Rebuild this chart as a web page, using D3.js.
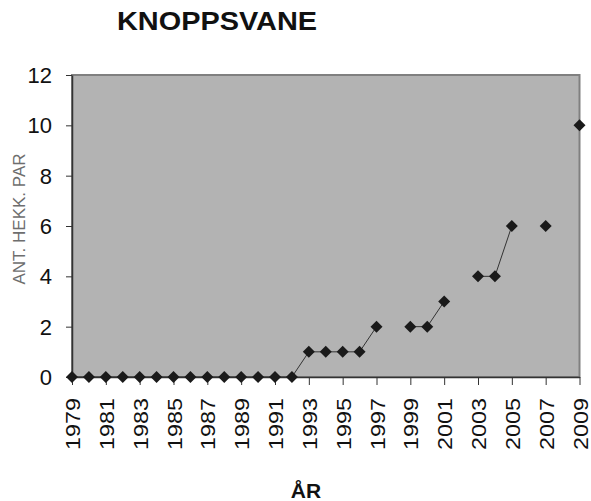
<!DOCTYPE html>
<html>
<head>
<meta charset="utf-8">
<script src="https://cdn.jsdelivr.net/npm/d3@7"></script>
<style>
  body { margin: 0; background: #fff; }
  svg text { font-family: "Liberation Sans", Arial, sans-serif; }
</style>
</head>
<body>
<div class="chart"></div>
<script>
// Data.
const years = d3.range(1979, 2010);
const pairs = [
  0, 0, 0, 0, 0, 0, 0, 0, 0, 0, 0, 0, 0, 0,   // 1979-1992
  1, 1, 1, 1, 2, null, 2, 2, 3, null,          // 1993-2002
  4, 4, 6, null, 6, null, 10                   // 2003-2009
];
const xTicks = d3.range(1979, 2010, 2);
const yTicks = [0, 2, 4, 6, 8, 10, 12];

const data = years.map((y, i) => ({ year: y, value: pairs[i] }));

// Margin convention.
const width = 591, height = 501;
const margin = { top: 75, right: 11, bottom: 124, left: 72 };

const xScale = d3.scaleLinear()
  .domain([1979, 2009])
  .range([margin.left, width - margin.right - 0.5]);
const yScale = d3.scaleLinear()
  .domain([0, 12])
  .range([height - margin.bottom, margin.top]);

const svg = d3.select('.chart')
  .append('svg')
  .attr('width', width)
  .attr('height', height);

// Plot area.
svg.append('rect')
  .attr('x', xScale(1979))
  .attr('y', yScale(12))
  .attr('width', xScale(2009) - xScale(1979))
  .attr('height', yScale(0) - yScale(12))
  .style('fill', '#b3b3b3')
  .style('stroke', '#808080')
  .style('stroke-width', 2);

// Title.
svg.append('text')
  .attr('x', 117)
  .attr('y', 30)
  .attr('textLength', 200)
  .attr('lengthAdjust', 'spacingAndGlyphs')
  .style('font-size', '25px')
  .style('font-weight', 'bold')
  .style('fill', '#111')
  .text('KNOPPSVANE');

// Y axis.
const yAxis = d3.axisLeft(yScale)
  .tickValues(yTicks)
  .tickSizeInner(6)
  .tickSizeOuter(0)
  .tickPadding(14);
const yAxisDraw = svg.append('g')
  .attr('transform', `translate(${xScale(1979)},0)`)
  .call(yAxis);
yAxisDraw.select('.domain').attr('stroke', '#333').attr('stroke-width', 1.5);
yAxisDraw.selectAll('line').attr('stroke', '#333');
yAxisDraw.selectAll('text')
  .style('font-size', '22px')
  .style('fill', '#111')
  .attr('dy', '0.34em');

// X axis.
const xAxis = d3.axisBottom(xScale)
  .tickValues(xTicks)
  .tickFormat(d3.format('d'))
  .tickSizeInner(8)
  .tickSizeOuter(0);
const xAxisDraw = svg.append('g')
  .attr('transform', `translate(0,${yScale(0)})`)
  .call(xAxis);
xAxisDraw.select('.domain').attr('stroke', '#333').attr('stroke-width', 1.5);
xAxisDraw.selectAll('line').attr('stroke', '#333');
xAxisDraw.selectAll('text')
  .attr('transform', 'rotate(-90)')
  .attr('text-anchor', 'end')
  .attr('x', -21)
  .attr('y', 0)
  .attr('dy', '0.36em')
  .attr('textLength', 52)
  .attr('lengthAdjust', 'spacingAndGlyphs')
  .style('font-size', '21px')
  .style('fill', '#111');

// Axis titles.
svg.append('text')
  .attr('transform', 'translate(25,219) rotate(-90)')
  .attr('text-anchor', 'middle')
  .style('font-size', '17px')
  .style('fill', '#6e6e6e')
  .text('ANT. HEKK. PAR');

svg.append('text')
  .attr('x', 306)
  .attr('y', 498)
  .attr('text-anchor', 'middle')
  .style('font-size', '21px')
  .style('font-weight', 'bold')
  .style('fill', '#111')
  .text('ÅR');

// Line with gaps.
const line = d3.line()
  .defined(d => d.value !== null)
  .x(d => xScale(d.year))
  .y(d => yScale(d.value));

svg.append('path')
  .datum(data)
  .attr('d', line)
  .style('fill', 'none')
  .style('stroke', '#333')
  .style('stroke-width', 1);

// Markers.
const diamond = d3.symbol().type(d3.symbolSquare).size(72);
svg.append('g')
  .selectAll('path')
  .data(data.filter(d => d.value !== null))
  .join('path')
  .attr('d', diamond)
  .attr('transform', d => `translate(${xScale(d.year)},${yScale(d.value)}) rotate(45)`)
  .style('fill', '#1a1a1a');
</script>
</body>
</html>
